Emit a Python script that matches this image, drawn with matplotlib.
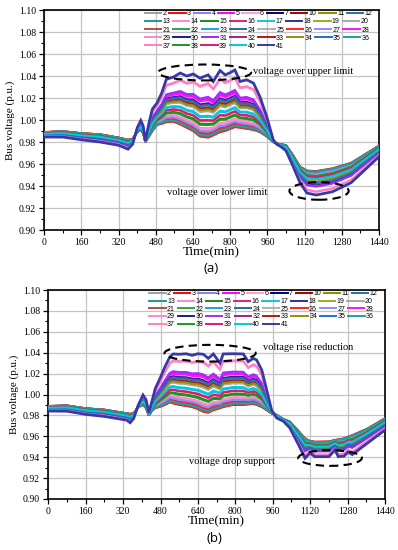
import matplotlib
matplotlib.use("Agg")
import matplotlib.pyplot as plt
from matplotlib.patches import Ellipse
import numpy as np

# ---------------- data ----------------
buses = [2, 3, 4, 5, 6, 7, 10, 11, 12, 13, 14, 15, 16, 17, 18, 19, 20,
         21, 22, 23, 24, 25, 26, 27, 28, 29, 30, 31, 32, 33, 34, 35, 36,
         37, 38, 39, 40, 41]
colors = ['#a0a0a0', '#ff0000', '#8080ff', '#ff00ff', '#ff9fcf', '#000080', '#a00000', '#8c8c00', '#1f6fb0',
          '#1a9a9a', '#ff88c8', '#1a8a1a', '#e0207a', '#10c8d8', '#303098', '#99b020', '#a8a8a8',
          '#a85050', '#30a050', '#20a0d8', '#2a68a0', '#b0b0b0', '#ff2020', '#8c8cff', '#ff10ff',
          '#ff88cc', '#1c1c8c', '#9830ff', '#a0208a', '#b01818', '#8f8f10', '#1f70c0', '#20a0a0',
          '#ff80c0', '#1a9a1a', '#e01870', '#00c8e0', '#3838a8']
# relative electrical position of each bus between the feeder head (0) and the far end (1)
position = [0.02, 0.00, 0.08, 0.62, 0.12, 0.45, 0.03, 0.44, 0.50, 0.04, 0.15, 0.22, 0.28, 0.35, 0.47, 0.43, 0.42,
            0.01, 0.46, 0.49, 0.51, 0.50, 0.06, 0.10, 0.60, 0.85, 0.55, 0.65, 0.53, 0.48, 0.45, 0.52, 0.03,
            0.87, 0.20, 0.27, 0.33, 1.00]

# panel (a): voltage profile at feeder head and far end
time_a = [0, 80, 160, 240, 320, 360, 380, 400, 415, 425, 435, 450, 465, 485, 505, 525, 555, 585, 613, 641,
          670, 705, 727, 756, 778, 800, 820, 842, 871, 900, 928, 957, 985, 1000, 1020, 1040, 1070, 1100,
          1130, 1170, 1240, 1320, 1440]
far_a = [0.9845, 0.9845, 0.982, 0.980, 0.977, 0.9735, 0.978, 0.993, 0.9995, 0.995, 0.981, 0.997, 1.010,
         1.0155, 1.0245, 1.037, 1.039, 1.0427, 1.040, 1.0418, 1.038, 1.041, 1.035, 1.045, 1.041, 1.043,
         1.0455, 1.035, 1.0365, 1.0335, 1.021, 1.003, 0.982, 0.978, 0.9755, 0.972, 0.958, 0.943,
         0.9336, 0.9318, 0.9348, 0.943, 0.9667]
near_a = [0.989, 0.9898, 0.988, 0.987, 0.984, 0.982, 0.983, 0.989, 0.991, 0.988, 0.980, 0.985, 0.990,
          0.9955, 0.9965, 0.998, 0.9985, 0.996, 0.993, 0.990, 0.985, 0.984, 0.986, 0.989, 0.990, 0.992,
          0.9935, 0.993, 0.992, 0.991, 0.989, 0.985, 0.980, 0.9785, 0.978, 0.977, 0.968, 0.9576,
          0.954, 0.9535, 0.956, 0.961, 0.9767]

# panel (b)
time_b = [0, 80, 160, 240, 335, 350, 365, 385, 405, 418, 430, 445, 458, 478, 499, 520, 534, 560, 590, 615,
          640, 663, 684, 706, 734, 748, 790, 834, 855, 877, 891, 913, 934, 955, 977, 1005, 1033, 1070,
          1098, 1119, 1140, 1200, 1226, 1240, 1265, 1282, 1300, 1362, 1440]
far_b = [0.9842, 0.984, 0.981, 0.979, 0.9755, 0.973, 0.977, 0.990, 0.9995, 0.995, 0.9825, 0.995, 1.006,
         1.0155, 1.0266, 1.036, 1.0388, 1.0385, 1.039, 1.0375, 1.039, 1.0385, 1.0346, 1.0388, 1.030,
         1.0388, 1.039, 1.0388, 1.0314, 1.0346, 1.033, 1.0234, 1.0043, 0.985, 0.9775, 0.9745, 0.968,
         0.952, 0.939, 0.944, 0.9405, 0.9405, 0.9469, 0.9405, 0.941, 0.945, 0.9425, 0.953, 0.966]
near_b = [0.989, 0.9895, 0.9868, 0.9855, 0.982, 0.9815, 0.982, 0.988, 0.990, 0.987, 0.980, 0.985, 0.987,
          0.9883, 0.990, 0.9925, 0.9915, 0.990, 0.989, 0.988, 0.986, 0.9835, 0.9825, 0.985, 0.9868,
          0.988, 0.990, 0.990, 0.9905, 0.991, 0.990, 0.988, 0.985, 0.982, 0.9804, 0.9765, 0.974,
          0.965, 0.958, 0.9555, 0.9548, 0.955, 0.9565, 0.957, 0.958, 0.9596, 0.961, 0.967, 0.9772]

x_ticks = [0, 160, 320, 480, 640, 800, 960, 1120, 1280, 1440]
y_ticks = [0.90, 0.92, 0.94, 0.96, 0.98, 1.00, 1.02, 1.04, 1.06, 1.08, 1.10]
legend_rows = [9, 8, 8, 8, 5]

SERIF = ['Liberation Serif', 'DejaVu Serif']
SANS = ['Liberation Sans', 'DejaVu Sans']

W, H = 398, 550
fig = plt.figure(figsize=(W / 100, H / 100), dpi=100)


def px_axes(l, t, r, b):
    return fig.add_axes([l / W, 1 - b / H, (r - l) / W, (b - t) / H])


def draw_panel(ax, tt, far, near, ell_top, ell_bot, txt_top, txt_bot):
    tt = np.array(tt)
    far = np.array(far)
    near = np.array(near)
    handles = []
    for b, c, w in zip(buses, colors, position):
        v = near + w * (far - near)
        lw = 2.0 if b == 41 else 1.45
        ln, = ax.plot(tt, v, color=c, lw=lw, solid_joinstyle='miter', zorder=3, label=str(b))
        handles.append(ln)
    ax.set_xlim(0, 1440)
    ax.set_ylim(0.90, 1.10)
    ax.set_xticks(x_ticks)
    ax.set_yticks(y_ticks)
    ax.set_xticks(np.arange(80, 1440, 160), minor=True)
    ax.set_yticks(np.arange(0.91, 1.10, 0.02), minor=True)
    ax.set_yticklabels(['%.2f' % y for y in y_ticks])
    ax.grid(True, which='major', color='#c4c4c4', lw=0.9, zorder=0)
    ax.tick_params(which='major', direction='out', length=3.5, width=0.9, labelsize=7, pad=2.5)
    ax.tick_params(which='minor', direction='out', length=2, width=0.8)
    for lab in ax.get_xticklabels() + ax.get_yticklabels():
        lab.set_family(SERIF)
    for s in ax.spines.values():
        s.set_linewidth(1.2)
    ax.set_xlabel('Time(min)', family=SERIF, fontsize=9.5, labelpad=-1)
    ax.set_ylabel('Bus voltage (p.u.)', family=SERIF, fontsize=8, labelpad=3)

    # legend rows
    idx = 0
    y0 = 0.982
    dy = 0.0365
    legs = []
    for r, n in enumerate(legend_rows):
        hh = handles[idx: idx + n]
        ll = [str(b) for b in buses[idx: idx + n]]
        idx += n
        leg = ax.legend(hh, ll, ncol=n, loc='center left', bbox_to_anchor=(0.300, y0 - r * dy),
                        frameon=False, prop={'family': SANS, 'size': 5.0}, handlelength=2.35,
                        handletextpad=0.2, columnspacing=0.4, borderpad=0, borderaxespad=0,
                        handleheight=0.5)
        for lh in leg.get_lines():
            lh.set_linewidth(1.4)
        legs.append(leg)
    for leg in legs[:-1]:
        ax.add_artist(leg)

    for (cx, cy, ew, eh) in (ell_top, ell_bot):
        ax.add_patch(Ellipse((cx, cy), ew, eh, fill=False, ec='black', lw=1.5,
                             ls=(0, (4, 2.5)), zorder=5))
    ax.text(txt_top[0], txt_top[1], txt_top[2], family=SERIF, fontsize=7.5, va='center', ha='left', zorder=6)
    ax.text(txt_bot[0], txt_bot[1], txt_bot[2], family=SERIF, fontsize=7.5, va='center', ha='left', zorder=6)


ax_a = px_axes(44.3, 10, 379, 230)
draw_panel(ax_a, time_a, far_a, near_a,
           (690, 1.0432, 400, 0.0145), (1182, 0.9355, 255, 0.016),
           (900, 1.0443, 'voltage over upper limit'), (530, 0.9340, 'voltage over lower limit'))

ax_b = px_axes(48.3, 290, 385, 499)
draw_panel(ax_b, time_b, far_b, near_b,
           (692, 1.0395, 390, 0.016), (1205, 0.9392, 272, 0.015),
           (920, 1.0448, 'voltage rise reduction'), (600, 0.9362, 'voltage drop support'))

fig.text(211 / W, 1 - 268 / H, '(a)', ha='center', va='center', family=['Open Sans', 'DejaVu Sans'], fontsize=9.5)
fig.text(214 / W, 1 - 538 / H, '(b)', ha='center', va='center', family=['Open Sans', 'DejaVu Sans'], fontsize=9.5)

fig.savefig('out.png', dpi=100)
